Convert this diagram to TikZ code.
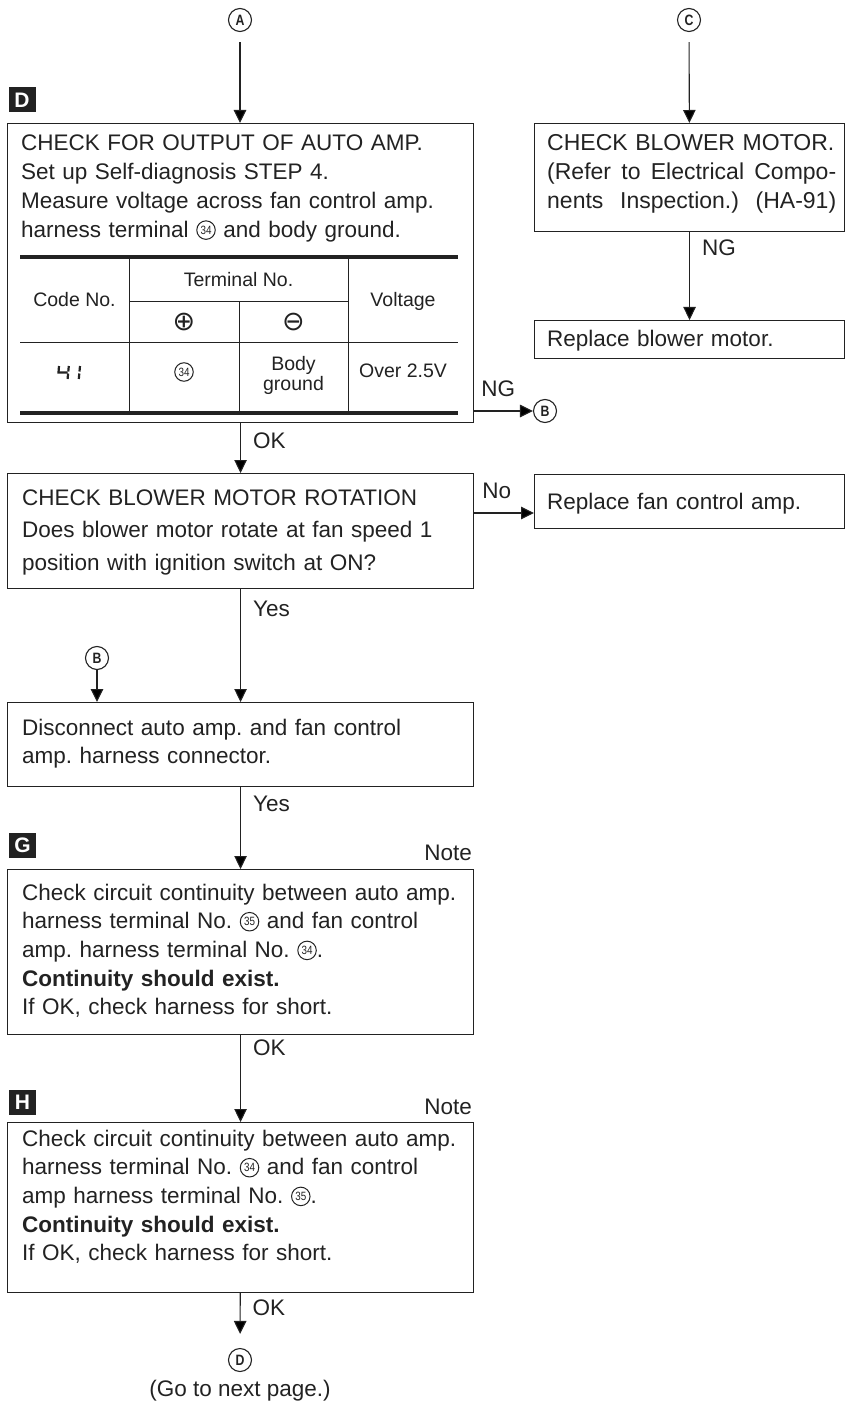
\documentclass[tikz,border=0pt]{standalone}
\usepackage{fontspec}
\setmainfont{Liberation Sans}
\newfontfamily\symfont{DejaVu Sans}
\newfontfamily\narrowfont{Liberation Sans}[FakeStretch=0.82]
\usetikzlibrary{arrows.meta}
\definecolor{ink}{HTML}{222222}
\frenchspacing
% small circled terminal number, set inline with the text
\newcommand{\circnum}[1]{\tikz[baseline={([yshift=-7pt]cn.center)}]\node[circle,draw=ink,line width=1pt,inner sep=0pt,minimum size=18.5pt,font=\narrowfont\fontsize{12}{12}\selectfont] (cn) {#1};}
% a line of justified text spread over a fixed width
\newcommand{\spreadline}[2]{\leavevmode\hbox to #1{#2}}
\begin{document}
\begin{tikzpicture}[x=1pt,y=-1pt,
  box/.style={draw=ink,line width=1.1pt,inner sep=0pt,anchor=north west},
  txt/.style={anchor=base west,inner sep=0pt,align=left,text=ink,text width=445pt,font=\fontsize{22.5}{28.7}\selectfont},
  rtxt/.style={txt,text width=300pt},
  lbl/.style={font=\fontsize{22.5}{24}\selectfont,text=ink,inner sep=0pt,text height=16pt,text depth=0pt},
  vlbl/.style={lbl,anchor=west,xshift=12pt},
  hlbl/.style={lbl,anchor=south,yshift=14pt},
  arr/.style={draw=ink,line width=1.1pt,-{Triangle[length=13pt,width=12.5pt]}},
  circ/.style={circle,draw=ink,line width=1.1pt,minimum size=23pt,inner sep=0pt,text=ink,font=\narrowfont\bfseries\fontsize{15}{15}\selectfont},
  tag/.style={fill=ink,text=white,font=\bfseries\fontsize{21}{21}\selectfont,minimum width=27pt,minimum height=25pt,inner sep=0pt},
  cell/.style={inner sep=0pt,align=center,text=ink,font=\fontsize{19.5}{20}\selectfont},
  sym/.style={cell,font=\symfont\fontsize{27}{27}\selectfont},
  thickrule/.style={draw=ink,line width=3.4pt},
  thinrule/.style={draw=ink,line width=1pt},
  seg/.style={draw=ink,line width=2.2pt}]
\useasboundingbox (0,0) rectangle (847,1404);

% off-page connectors at the top
\node[circ] (cA) at (240,20) {A};
\node[circ] (cC) at (689,20) {C};

% step D
\node[tag] (tagD) at (22,100) {D};
\node[box,minimum width=466pt,minimum height=299pt] (bD) at (7,123) {};
\node[txt] (tD) at (21,151) {CHECK FOR OUTPUT OF AUTO AMP.\\
Set up Self-diagnosis STEP 4.\\
Measure voltage across fan control amp.\\
harness terminal \circnum{34} and body ground.};

% output table
\draw[thickrule] (20,257) -- (458,257);
\draw[thickrule] (20,413) -- (458,413);
\draw[thinrule] (129,257) -- (129,413);
\draw[thinrule] (348,257) -- (348,413);
\draw[thinrule] (239,302) -- (239,413);
\draw[thinrule] (129,302) -- (348,302);
\draw[thinrule] (20,342) -- (458,342);
\node[cell,anchor=base] (hCode) at (74.5,307) {Code No.};
\node[cell,anchor=base] (hTerm) at (238.5,287) {Terminal No.};
\node[cell,anchor=base] (hVolt) at (403,307) {Voltage};
\node[sym] (hPlus) at (184,322) {⊕};
\node[sym] (hMinus) at (293.5,322) {⊖};
% code 41 in segment digits
\draw[seg] (59,366) -- (58.5,372.5) -- (67.5,372.5);
\draw[seg] (68.8,366) -- (68.3,371.5);
\draw[seg] (68.1,373.5) -- (67.6,379);
\draw[seg] (80,366) -- (79.5,371.5);
\draw[seg] (79.3,373.5) -- (78.8,379);
\node[cell] (dPlus) at (184,372) {\circnum{34}};
\node[cell] (dMinus) at (293.5,375) {Body\\ground};
\node[cell,anchor=base] (dVolt) at (403,377) {Over 2.5V};

% step C branch
\node[box,minimum width=310pt,minimum height=108pt] (bC) at (534,123) {};
\node[rtxt,font=\fontsize{23}{28.9}\selectfont] (tC) at (547,151) {CHECK BLOWER MOTOR.\\
\spreadline{289pt}{(Refer \hfil to \hfil Electrical \hfil Compo-}\\
\spreadline{289pt}{nents \hfil Inspection.) \hfil (HA-91)}};
\node[box,minimum width=310pt,minimum height=38pt] (bRB) at (534,320) {};
\node[rtxt] (tRB) at (547,346) {Replace blower motor.};

% blower motor rotation check
\node[box,minimum width=466pt,minimum height=115pt] (bE) at (7,473) {};
\node[txt,font=\fontsize{22.5}{32.5}\selectfont] (tE) at (22,505) {CHECK BLOWER MOTOR ROTATION\\
Does blower motor rotate at fan speed 1\\
position with ignition switch at ON?};
\node[box,minimum width=310pt,minimum height=54pt] (bRF) at (534,474) {};
\node[rtxt] (tRF) at (547,509) {Replace fan control amp.};
\coordinate (noRow) at (0,513);

\node[circ] (cB1) at (545,411) {B};
\node[circ] (cB2) at (97,658) {B};

% disconnect step
\node[box,minimum width=466pt,minimum height=84pt] (bF) at (7,702) {};
\node[txt,font=\fontsize{22.5}{28}\selectfont] (tF) at (22,735) {Disconnect auto amp. and fan control\\
amp. harness connector.};

% step G
\node[tag] (tagG) at (22.5,845) {G};
\node[lbl,anchor=base east,text height=,text depth=] (noteG) at (472,860) {Note};
\node[box,minimum width=466pt,minimum height=165pt] (bG) at (7,869) {};
\node[txt] (tG) at (22,900) {Check circuit continuity between auto amp.\\
harness terminal No. \circnum{35} and fan control\\
amp. harness terminal No. \circnum{34}.\\
\textbf{Continuity should exist.}\\
If OK, check harness for short.};

% step H
\node[tag] (tagH) at (22.5,1102) {H};
\node[lbl,anchor=base east,text height=,text depth=] (noteH) at (472,1114) {Note};
\node[box,minimum width=466pt,minimum height=170pt] (bH) at (7,1122) {};
\node[txt] (tH) at (22,1146) {Check circuit continuity between auto amp.\\
harness terminal No. \circnum{34} and fan control\\
amp harness terminal No. \circnum{35}.\\
\textbf{Continuity should exist.}\\
If OK, check harness for short.};

\node[circ] (cD) at (240,1360) {D};
\node[lbl,text height=,text depth=] (goNext) at (240,1391) {(Go to next page.)};

% connectors
\draw[arr,shorten <=10pt] (cA) -- (cA |- bD.north);
\draw[arr,shorten <=10pt] (cC) -- (bC);
\draw[arr] (bC) -- node[vlbl,pos=0.18] {NG} (bRB);
\draw[arr] (bD) -- node[vlbl,pos=0.35] {OK} (bE);
\draw[arr] (cB1 -| bD.east) -- node[hlbl,pos=0.41] {NG} (cB1);
\draw[arr] (noRow -| bE.east) -- node[hlbl,pos=0.38] {No} (noRow -| bRF.west);
\draw[arr] (bE) -- node[vlbl,pos=0.17] {Yes} (bF);
\draw[arr] (cB2) -- (cB2 |- bF.north);
\draw[arr] (bF) -- node[vlbl,pos=0.2] {Yes} (bG);
\draw[arr] (bG) -- node[vlbl,pos=0.14] {OK} (bH);
\draw[arr,shorten >=14pt] (bH) -- node[vlbl,pos=0.26] {OK} (cD);
\end{tikzpicture}
\end{document}
